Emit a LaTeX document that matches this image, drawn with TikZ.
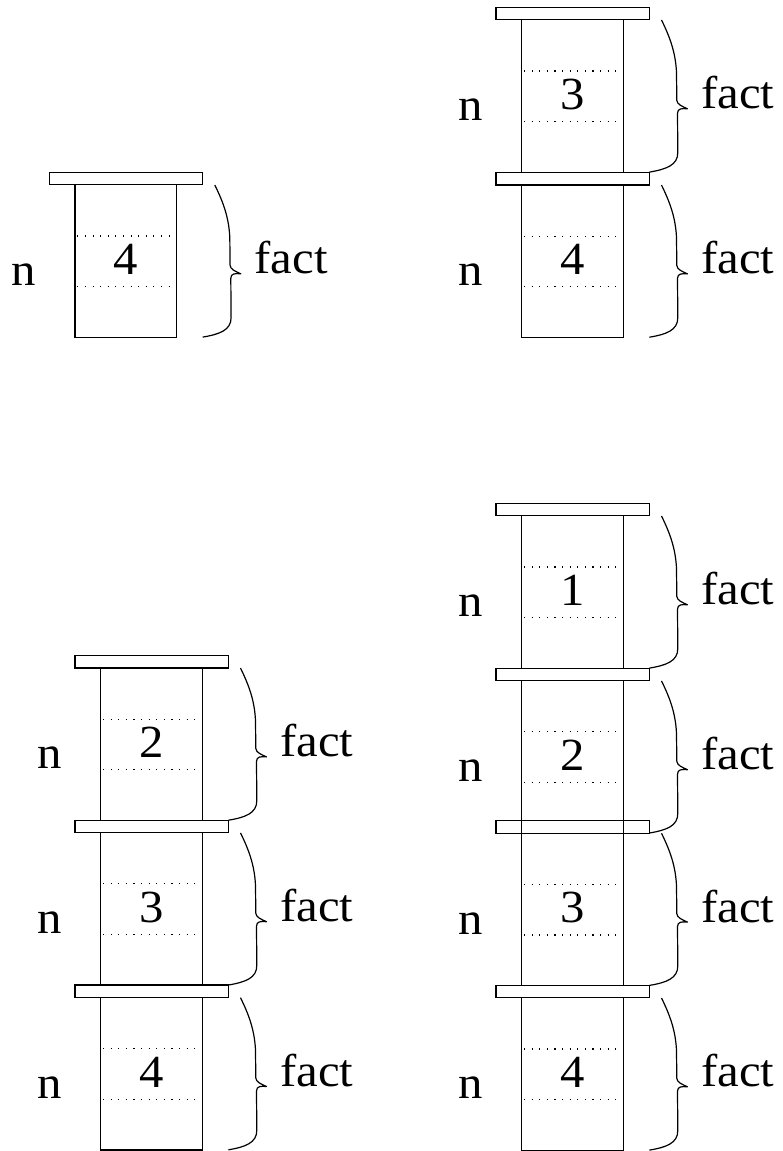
\documentclass[tikz,border=0pt]{standalone}
\usepackage{fontspec}
\setmainfont[FakeStretch=1.06]{Liberation Serif}
\tikzset{
  boxline/.style={line width=1.1pt},
  dotline/.style={line width=1.1pt, dash pattern=on 1.1pt off 6.5pt},
  bracestroke/.style={line width=1.2pt, line join=round},
  lbl/.style={inner sep=0pt, font=\fontsize{46}{52}\selectfont},
}
\newcommand{\stackcell}[4]{% #1 name, #2 lid left x, #3 lid top y, #4 digit
  \begin{scope}[shift={(#2,#3)}]
    \draw[boxline] (25.7,12.6) rectangle (127.4,165);
    \draw[dotline] (28,63.7) -- (123,63.7);
    \draw[dotline] (28,114.4) -- (123,114.4);
    \draw[boxline] (0,0) rectangle (153.4,12.6);
    \node[lbl, anchor=base] (#1d) at (76.5,102) {#4};
    \node[lbl, anchor=base] (#1n) at (-25.5,113.5) {n};
    \node[lbl, anchor=base west] (#1f) at (205,101.5) {fact};
    \draw[bracestroke] (165.5,12.7) .. controls (174,30) and (179.5,45) .. (180.5,65)
      -- (180.8,93) .. controls (181,97) and (186,99) .. (191.5,101.5)
      .. controls (186,101) and (181.5,101) .. (181.5,106)
      -- (181.8,145) .. controls (182,158) and (170,162) .. (153.4,164.8);
  \end{scope}}
\begin{document}
\begin{tikzpicture}[x=1pt,y=-1pt]
  \useasboundingbox (0,0) rectangle (782,1151);
  % stack 1
  \stackcell{a1}{49.3}{172.3}{4}
  % stack 2
  \stackcell{b1}{496}{7.3}{3}
  \stackcell{b2}{496}{172.4}{4}
  % stack 3
  \stackcell{c1}{75}{655.4}{2}
  \stackcell{c2}{75}{820.2}{3}
  \stackcell{c3}{75}{985}{4}
  % stack 4
  \stackcell{d1}{496}{503.3}{1}
  \stackcell{d2}{496}{668.2}{2}
  \stackcell{d3}{496}{820.6}{3}
  \stackcell{d4}{496}{985.3}{4}
\end{tikzpicture}
\end{document}
